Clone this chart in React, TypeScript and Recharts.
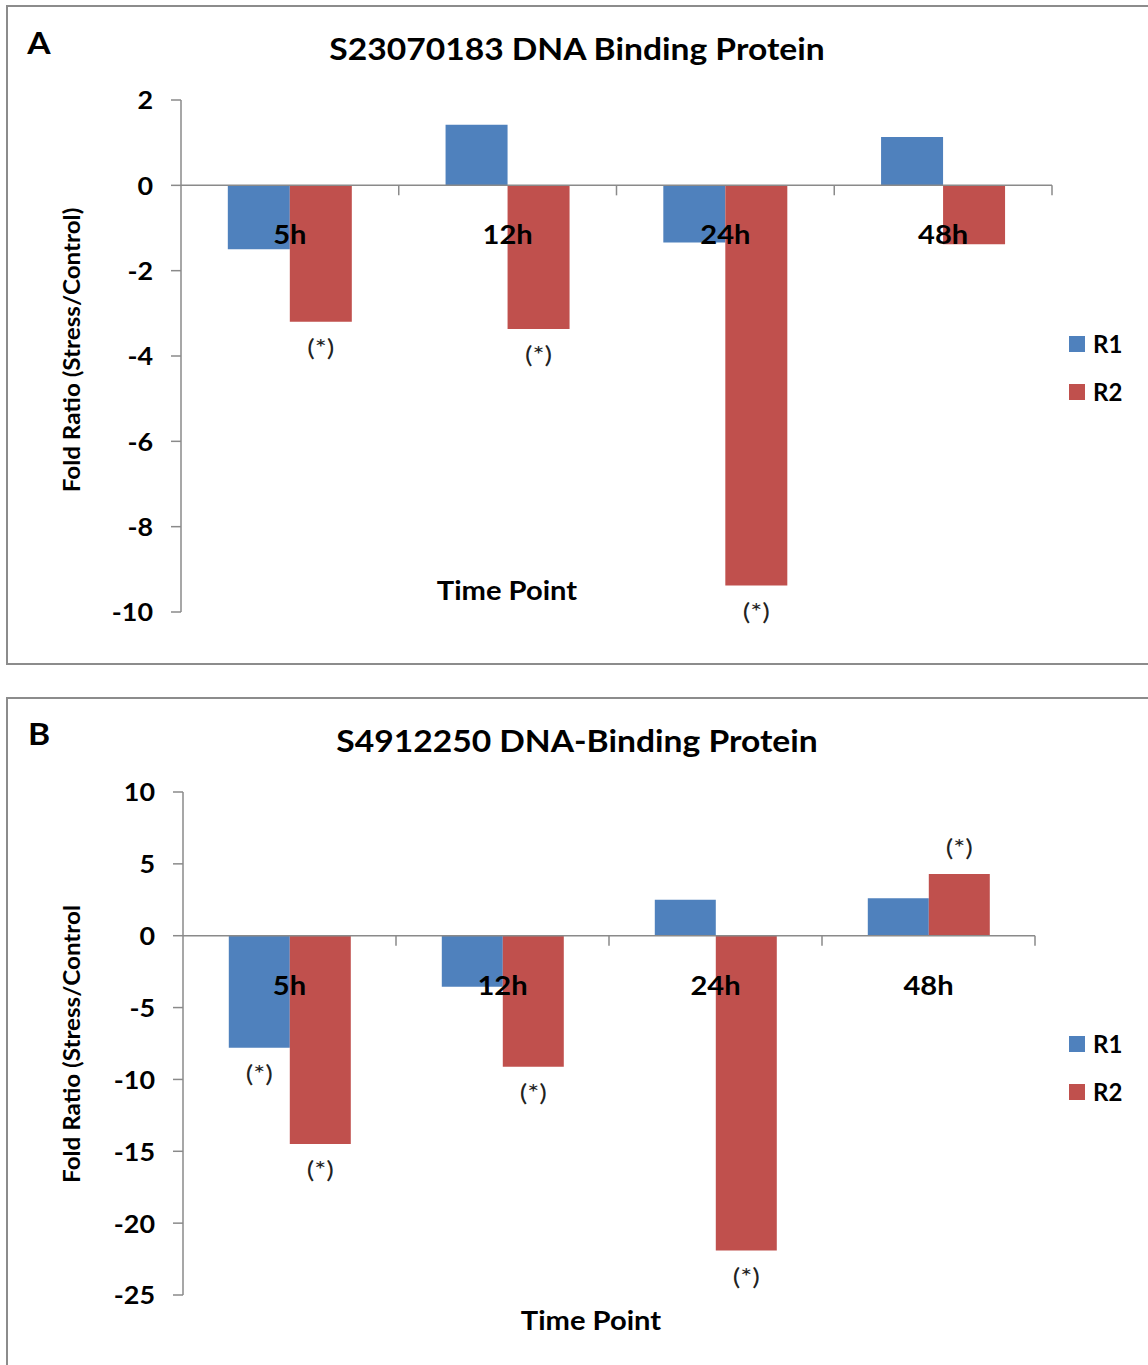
import { BarChart, Bar, XAxis, YAxis, ReferenceLine, ReferenceDot, LabelList } from "recharts"

const timePoints = ["5h", "12h", "24h", "48h"]
const seriesNames = ["R1", "R2"]
const seriesColors = ["#4F81BD", "#C0504D"]

// panel A: S23070183
const r1A = [-1.5, 1.42, -1.34, 1.13]
const r2A = [-3.2, -3.37, -9.38, -1.38]
const starR1A = [false, false, false, false]
const starR2A = [true, true, true, false]
const ticksA = [2, 0, -2, -4, -6, -8, -10]

// panel B: S4912250
const r1B = [-7.8, -3.55, 2.5, 2.6]
const r2B = [-14.5, -9.12, -21.9, 4.3]
const starR1B = [true, false, false, false]
const starR2B = [true, true, true, true]
const ticksB = [10, 5, 0, -5, -10, -15, -20, -25]

const FONT = "Lato, 'Open Sans', sans-serif"
const AXIS = "#8a8a8a"
const SX = 1.12 // the figure text is a bit stretched horizontally
const CHART_W = 1148
const Y_W = 80

function Txt({ x, y, size, bold = true, rotate = false, sx = SX, children }: any) {
  return (
    <div
      style={{
        position: "absolute",
        left: x,
        top: y,
        transform: `translate(-50%, -50%)${rotate ? " rotate(-90deg)" : ""} scaleX(${sx})`,
        fontFamily: FONT,
        fontSize: size,
        fontWeight: bold ? 700 : 400,
        whiteSpace: "nowrap",
        lineHeight: 1,
        color: "#000",
      }}
    >
      {children}
    </div>
  )
}

const yTick = (p: any) => (
  <g transform={`translate(${p.x},${p.y}) scale(${SX},1)`}>
    <text
      x={0}
      y={0}
      textAnchor="end"
      dominantBaseline="central"
      fontFamily={FONT}
      fontSize={24}
      fontWeight={700}
      fill="#000"
    >
      {p.payload.value}
    </text>
  </g>
)

const starLabel = (flags: boolean[]) => (p: any) => {
  const idx = p.index
  if (!flags[idx]) return null
  const x = Number(p.x)
  const y = Number(p.y)
  const w = Number(p.width)
  const h = Number(p.height)
  const v = Number(p.value)
  const end = v < 0 ? Math.max(y, y + h) + 25 : Math.min(y, y + h) - 27
  return (
    <g key={`s-${idx}`} transform={`translate(${x + w / 2},${end}) scale(1.18,1)`}>
      <text x={0} y={0} textAnchor="middle" dominantBaseline="central" fontFamily={FONT} fontSize={24} fill="#222">
        (*)
      </text>
    </g>
  )
}

interface PanelProps {
  top: number
  height: number
  margin: { top: number; right: number; bottom: number; left: number }
  domain: [number, number]
  ticks: number[]
  r1: number[]
  r2: number[]
  starsR1: boolean[]
  starsR2: boolean[]
}

function Panel({ top, height, margin, domain, ticks, r1, r2, starsR1, starsR2 }: PanelProps) {
  const data = timePoints.map((t, i) => ({ time: t, R1: r1[i], R2: r2[i] }))
  // half a category band, for the tick marks between categories
  const half = (CHART_W - margin.left - Y_W - margin.right) / timePoints.length / 2
  return (
    <div style={{ position: "absolute", left: 0, top, width: CHART_W, height }}>
      <BarChart width={CHART_W} height={height} data={data} margin={margin} barCategoryGap="21.5%" barGap={0}>
        <XAxis dataKey="time" hide />
        <YAxis
          domain={domain}
          ticks={ticks}
          interval={0}
          allowDataOverflow
          width={Y_W}
          tickSize={10}
          tickMargin={18}
          axisLine={{ stroke: AXIS, strokeWidth: 1.5 }}
          tickLine={{ stroke: AXIS, strokeWidth: 1.5 }}
          tick={yTick}
        />
        <ReferenceLine y={0} stroke={AXIS} strokeWidth={1.5} />
        <Bar dataKey="R1" fill={seriesColors[0]} isAnimationActive={false}>
          <LabelList dataKey="R1" content={starLabel(starsR1)} />
        </Bar>
        <Bar dataKey="R2" fill={seriesColors[1]} isAnimationActive={false}>
          <LabelList dataKey="R2" content={starLabel(starsR2)} />
        </Bar>
        {timePoints.map((t) => (
          <ReferenceDot
            key={t}
            x={t}
            y={0}
            r={1}
            isFront
            shape={(p: any) => (
              <line
                x1={p.cx + half}
                x2={p.cx + half}
                y1={p.cy}
                y2={p.cy + 10}
                stroke={AXIS}
                strokeWidth={1.5}
              />
            )}
            label={(p: any) => (
              <g transform={`translate(${p.viewBox.x + (p.viewBox.width || 0) / 2},${p.viewBox.y + (p.viewBox.height || 0) / 2 + 49}) scale(${SX},1)`}>
                <text
                  x={0}
                  y={0}
                  textAnchor="middle"
                  dominantBaseline="central"
                  fontFamily={FONT}
                  fontSize={26}
                  fontWeight={700}
                  fill="#000"
                >
                  {t}
                </text>
              </g>
            )}
          />
        ))}
      </BarChart>
    </div>
  )
}

function LegendBox({ x, y }: { x: number; y: number }) {
  return (
    <div style={{ position: "absolute", left: x, top: y }}>
      {seriesNames.map((n, i) => (
        <div key={n} style={{ display: "flex", alignItems: "center", height: 48 }}>
          <div style={{ width: 16, height: 16, background: seriesColors[i], marginRight: 8 }} />
          <span style={{ fontFamily: FONT, fontWeight: 700, fontSize: 24, lineHeight: 1 }}>{n}</span>
        </div>
      ))}
    </div>
  )
}

export default function App() {
  return (
    <div style={{ position: "absolute", left: 0, top: 0, width: 1148, height: 1365, overflow: "hidden", background: "#fff" }}>
      <div style={{ position: "absolute", left: 6, top: 5, width: 1160, height: 660, border: "2px solid #8c8c8c", boxSizing: "border-box" }} />
      <div style={{ position: "absolute", left: 6, top: 697, width: 1160, height: 700, border: "2px solid #8c8c8c", boxSizing: "border-box" }} />

      <Panel
        top={0}
        height={665}
        margin={{ top: 100, right: 96, bottom: 53, left: 101 }}
        domain={[-10, 2]}
        ticks={ticksA}
        r1={r1A}
        r2={r2A}
        starsR1={starR1A}
        starsR2={starR2A}
      />
      <Txt x={39} y={42} size={30}>A</Txt>
      <Txt x={577} y={48} size={30}>S23070183 DNA Binding Protein</Txt>
      <Txt x={72} y={350} size={22} rotate sx={1.1}>Fold Ratio (Stress/Control)</Txt>
      <Txt x={507} y={590} size={26}>Time Point</Txt>
      <LegendBox x={1069} y={320} />

      <Panel
        top={697}
        height={668}
        margin={{ top: 95, right: 113, bottom: 70, left: 103 }}
        domain={[-25, 10]}
        ticks={ticksB}
        r1={r1B}
        r2={r2B}
        starsR1={starR1B}
        starsR2={starR2B}
      />
      <Txt x={39} y={733} size={30}>B</Txt>
      <Txt x={577} y={740} size={30}>S4912250 DNA-Binding Protein</Txt>
      <Txt x={72} y={1044} size={22} rotate sx={1.1}>Fold Ratio (Stress/Control</Txt>
      <Txt x={591} y={1320} size={26}>Time Point</Txt>
      <LegendBox x={1069} y={1020} />
    </div>
  )
}
